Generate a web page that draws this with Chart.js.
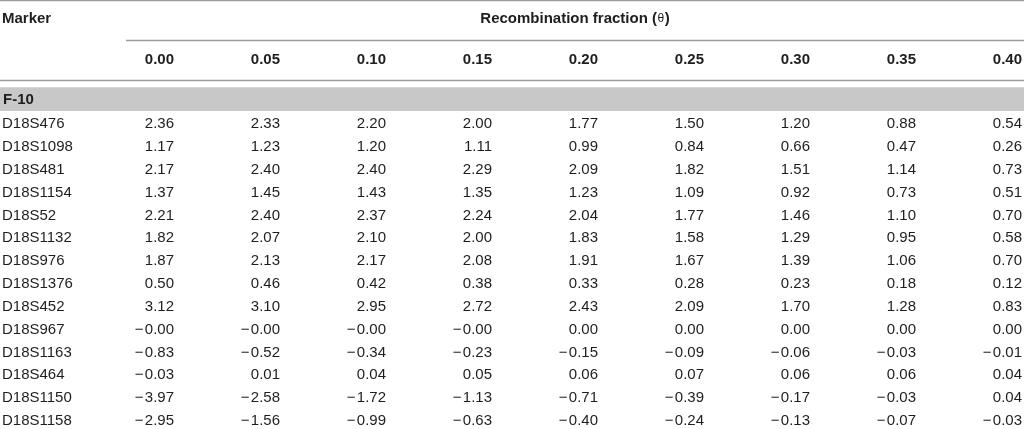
<!DOCTYPE html>
<html>
<head>
<meta charset="utf-8">
<script src="https://cdn.jsdelivr.net/npm/chart.js@4/dist/chart.umd.min.js"></script>
<style>
html,body{margin:0;padding:0;background:#fff;}
#wrap{width:1024px;height:429px;position:relative;}
</style>
</head>
<body>
<div id="wrap"><canvas id="c"></canvas></div>
<script>
// ---- data ----
const thetaLabels = ['0.00','0.05','0.10','0.15','0.20','0.25','0.30','0.35','0.40'];
const familyLabel = 'F-10';
const markers = ['D18S476','D18S1098','D18S481','D18S1154','D18S52','D18S1132','D18S976','D18S1376','D18S452','D18S967','D18S1163','D18S464','D18S1150','D18S1158'];
const lod000 = [2.36, 1.17, 2.17, 1.37, 2.21, 1.82, 1.87, 0.50, 3.12, -0, -0.83, -0.03, -3.97, -2.95];
const lod005 = [2.33, 1.23, 2.40, 1.45, 2.40, 2.07, 2.13, 0.46, 3.10, -0, -0.52, 0.01, -2.58, -1.56];
const lod010 = [2.20, 1.20, 2.40, 1.43, 2.37, 2.10, 2.17, 0.42, 2.95, -0, -0.34, 0.04, -1.72, -0.99];
const lod015 = [2.00, 1.11, 2.29, 1.35, 2.24, 2.00, 2.08, 0.38, 2.72, -0, -0.23, 0.05, -1.13, -0.63];
const lod020 = [1.77, 0.99, 2.09, 1.23, 2.04, 1.83, 1.91, 0.33, 2.43, 0.00, -0.15, 0.06, -0.71, -0.40];
const lod025 = [1.50, 0.84, 1.82, 1.09, 1.77, 1.58, 1.67, 0.28, 2.09, 0.00, -0.09, 0.07, -0.39, -0.24];
const lod030 = [1.20, 0.66, 1.51, 0.92, 1.46, 1.29, 1.39, 0.23, 1.70, 0.00, -0.06, 0.06, -0.17, -0.13];
const lod035 = [0.88, 0.47, 1.14, 0.73, 1.10, 0.95, 1.06, 0.18, 1.28, 0.00, -0.03, 0.06, -0.03, -0.07];
const lod040 = [0.54, 0.26, 0.73, 0.51, 0.70, 0.58, 0.70, 0.12, 0.83, 0.00, -0.01, 0.04, 0.04, -0.03];
const lodColumns = [lod000, lod005, lod010, lod015, lod020, lod025, lod030, lod035, lod040];

// ---- style / layout ----
const FONT = "'Liberation Sans', Arial, Helvetica, sans-serif";
const FS = 15;
const DY = 1; // text vertical nudge
const TEXT = '#1e1e1e';
const RULE = '#9c9c9c';
const BAND = '#c8c8c8';
const ROW = { marker: -4.595, colHead: -2.80, family: -1.05, rule0: -5.361, rule1: -3.61, rule2: -1.86, bandTop: -1.5625, bandBot: -0.525 };

function fmt(v){
  const neg = v < 0 || Object.is(v, -0);
  return (neg ? '\u2212\u200A' : '') + Math.abs(v).toFixed(2);
}

const datasets = lodColumns.map((col, i) => ({
  label: thetaLabels[i],
  data: col.map((v, k) => ({ x: i, y: k, v: v })),
  pointRadius: 0,
  showLine: false
}));

const tablePlugin = {
  id: 'tableText',
  beforeDatasetsDraw(chart){
    const ctx = chart.ctx, xs = chart.scales.x, ys = chart.scales.y, ca = chart.chartArea;
    ctx.save();
    ctx.fillStyle = BAND;
    const bt = ys.getPixelForValue(ROW.bandTop), bb = ys.getPixelForValue(ROW.bandBot);
    ctx.fillRect(ca.left, bt, ca.right - ca.left, bb - bt);
    ctx.strokeStyle = RULE; ctx.lineWidth = 1.3;
    const hl = (y, x0, x1) => { ctx.beginPath(); ctx.moveTo(x0, y); ctx.lineTo(x1, y); ctx.stroke(); };
    hl(Math.max(ys.getPixelForValue(ROW.rule0), 0.7), ca.left, ca.right);
    hl(ys.getPixelForValue(ROW.rule1), xs.getPixelForValue(-0.453), ca.right);
    hl(ys.getPixelForValue(ROW.rule2), ca.left, ca.right);
    ctx.restore();
  },
  afterDatasetsDraw(chart){
    const ctx = chart.ctx, xs = chart.scales.x, ys = chart.scales.y, ca = chart.chartArea;
    const Y = v => ys.getPixelForValue(v) + DY;
    ctx.save();
    ctx.fillStyle = TEXT;
    ctx.textBaseline = 'middle';
    ctx.font = 'bold ' + FS + 'px ' + FONT;
    ctx.textAlign = 'left';
    ctx.fillText('Marker', ca.left + 2, Y(ROW.marker));
    ctx.fillText(familyLabel, ca.left + 3, Y(ROW.family));
    const p1 = 'Recombination fraction (', p3 = ')';
    const boldF = 'bold ' + FS + 'px ' + FONT, thF = '12px ' + FONT;
    ctx.font = boldF; const w1 = ctx.measureText(p1).width, w3 = ctx.measureText(p3).width;
    ctx.font = thF; const w2 = ctx.measureText('\u03B8').width + 1;
    const cx = xs.getPixelForValue(3.783), hy = Y(ROW.marker);
    let sx = cx - (w1 + w2 + w3) / 2;
    ctx.font = boldF; ctx.fillText(p1, sx, hy);
    ctx.font = thF; ctx.fillText('\u03B8', sx + w1 + 0.5, hy);
    ctx.font = boldF; ctx.fillText(p3, sx + w1 + w2, hy);
    ctx.textAlign = 'right';
    thetaLabels.forEach((t, i) => ctx.fillText(t, xs.getPixelForValue(i), Y(ROW.colHead)));
    ctx.font = FS + 'px ' + FONT;
    ctx.textAlign = 'left';
    markers.forEach((m, k) => ctx.fillText(m, ca.left + 2, Y(k)));
    ctx.textAlign = 'right';
    chart.data.datasets.forEach((ds, di) => {
      const meta = chart.getDatasetMeta(di);
      meta.data.forEach((el, j) => ctx.fillText(fmt(ds.data[j].v), el.x, el.y + DY));
    });
    ctx.restore();
  }
};

new Chart(document.getElementById('c'), {
  type: 'scatter',
  data: { datasets },
  options: {
    responsive: true,
    maintainAspectRatio: false,
    animation: false,
    layout: { padding: 0 },
    plugins: { legend: { display: false }, tooltip: { enabled: false } },
    scales: {
      x: { type: 'linear', display: false, min: -1.6415, max: 8.0189 },
      y: { type: 'linear', display: false, reverse: true, min: -5.383, max: 13.392 }
    }
  },
  plugins: [tablePlugin]
});
</script>
</body>
</html>
